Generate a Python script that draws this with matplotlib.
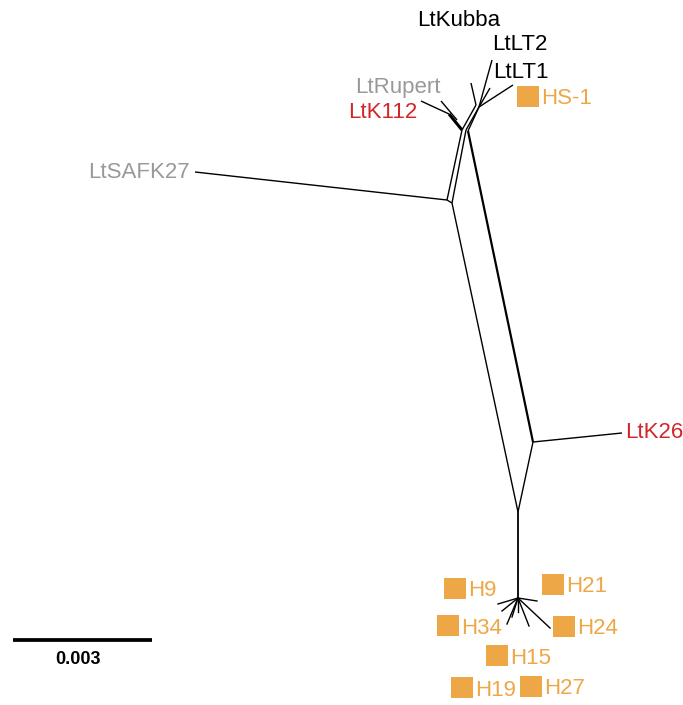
import matplotlib.pyplot as plt

# split network, node positions (pixels, y down)
nodes = {
    'j0a': (462, 130), 'j0b': (466, 130), 'j0c': (468, 131),
    'b1': (447, 200), 'b2': (452, 203),
    'c': (533, 442), 'd': (518, 512), 'e': (518, 598),
    'j1a': (476, 105), 'j1b': (479, 107),
    'k112': (421, 101), 'rup': (441, 101), 'rupj': (457, 120), 'k112j': (449, 114),
    'kub': (471, 83), 'lt2': (492, 60), 'lt1': (490, 88), 'hs1': (513, 85),
    'saf': (195, 172), 'k26': (622, 433),
}

edges = [
    ('j0a', 'b1', 1.0), ('j0b', 'b2', 1.0), ('b1', 'b2', 1.0),
    ('j0c', 'c', 1.6), ('b2', 'd', 1.0), ('c', 'd', 1.0),
    ('d', 'e', 1.3), ('b1', 'saf', 1.0), ('c', 'k26', 1.0),
    ('j0a', 'j1a', 1.0), ('j0b', 'j1b', 1.0), ('j0c', 'j1b', 1.0),
    ('j0a', 'k112j', 2.2), ('k112j', 'k112', 1.0), ('rupj', 'rup', 1.0),
    ('j1a', 'kub', 1.0), ('j1b', 'lt2', 1.0), ('j1b', 'lt1', 1.0), ('j1b', 'hs1', 1.0),
]

# star of H strains
spoke_x = [537, 498, 502, 507, 512, 518, 529, 550]
spoke_y = [601, 604, 611, 624, 617, 612, 626, 628]

labels = ['LtKubba', 'LtLT2', 'LtLT1', 'LtRupert', 'LtK112', 'LtSAFK27', 'LtK26']
lab_x = [459, 492, 493, 355, 348, 190, 625]
lab_y = [21, 45, 72, 87, 113, 172, 433]
lab_c = ['black', 'black', 'black', '#999999', '#d1262b', '#999999', '#d1262b']
lab_ha = ['center', 'left', 'left', 'left', 'left', 'right', 'left']

h_names = ['HS-1', 'H9', 'H21', 'H34', 'H24', 'H15', 'H19', 'H27']
h_x = [517, 444, 542, 437, 553, 486, 451, 520]
h_y = [86, 578, 574, 615, 616, 645, 677, 676]

orange = '#eea746'

fig = plt.figure(figsize=(6.83, 7.05), dpi=100)
ax = fig.add_axes([0, 0, 1, 1])
ax.set_xlim(0, 683)
ax.set_ylim(705, 0)
ax.axis('off')

for a, b, lw in edges:
    x0, y0 = nodes[a]
    x1, y1 = nodes[b]
    ax.plot([x0, x1], [y0, y1], color='black', lw=lw, solid_capstyle='butt')

ex, ey = nodes['e']
for sx, sy in zip(spoke_x, spoke_y):
    ax.plot([ex, sx], [ey, sy], color='black', lw=1.0)

for t, x, y, c, ha in zip(labels, lab_x, lab_y, lab_c, lab_ha):
    ax.text(x, y, t, color=c, ha=ha, va='center', fontsize=16, family='Liberation Sans')

for t, x, y in zip(h_names, h_x, h_y):
    ax.add_patch(plt.Rectangle((x, y), 22, 21, color=orange, lw=0))
    ax.text(x + 24, y + 13, t, color=orange, ha='left', va='center', fontsize=16,
            family='Liberation Sans')

# scale bar
ax.plot([13, 152], [640, 640], color='black', lw=2.7, solid_capstyle='butt')
ax.text(78, 659, '0.003', ha='center', va='center', fontsize=13, fontweight='bold',
        family='Liberation Sans')

fig.savefig('out.png', dpi=100)
